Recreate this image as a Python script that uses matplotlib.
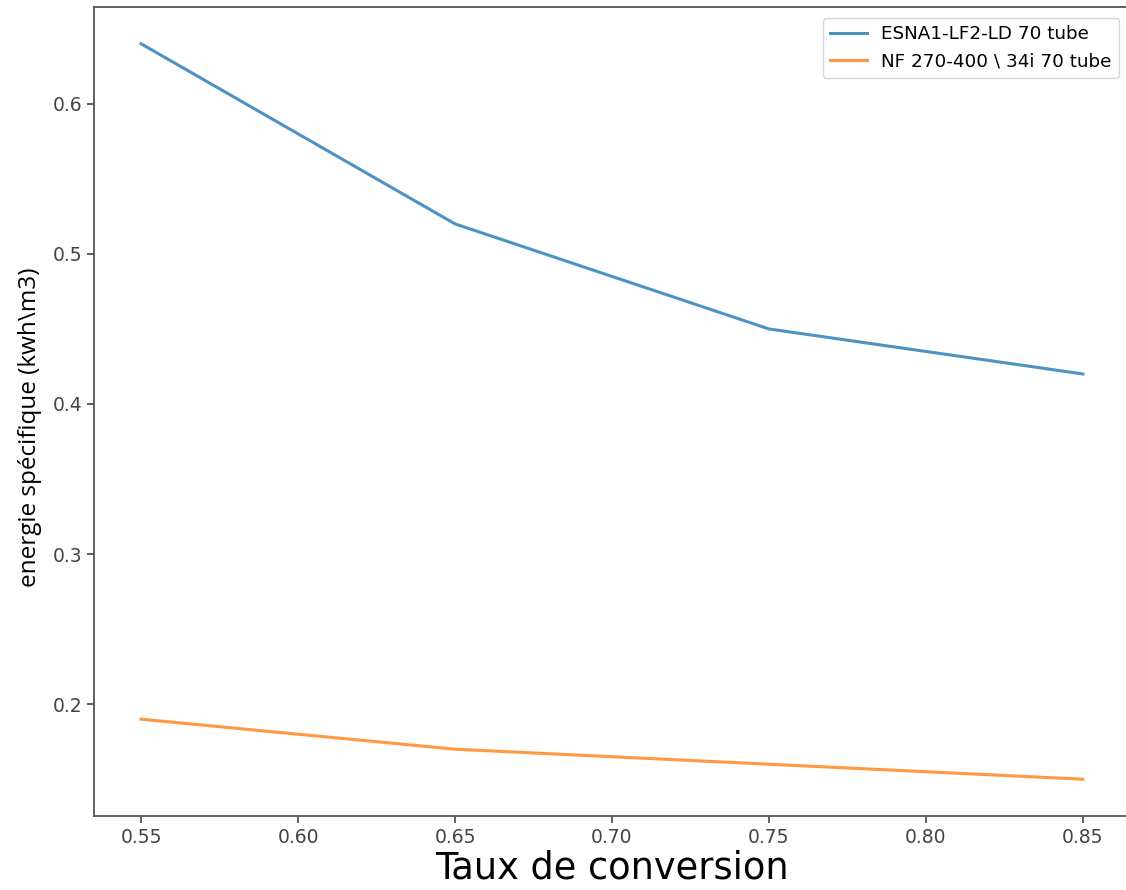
import matplotlib
matplotlib.use("Agg")
import matplotlib.pyplot as plt

# conversion rate vs specific energy for two membranes
taux = [0.55, 0.65, 0.75, 0.85]
energie_esna = [0.64, 0.52, 0.45, 0.42]
energie_nf = [0.19, 0.17, 0.16, 0.15]

plt.rcParams["font.family"] = ["DejaVu Sans"]

fig = plt.figure(figsize=(11.26, 8.90), dpi=100)
# axes run slightly past the right edge of the figure
ax = fig.add_axes([94 / 1126, 1 - 816 / 890, (1130 - 94) / 1126, (816 - 7) / 890])

ax.plot(taux, energie_esna, color="#1f77b4", linewidth=2.2, alpha=0.8,
        label="ESNA1-LF2-LD 70 tube")
ax.plot(taux, energie_nf, color="#ff7f0e", linewidth=2.2, alpha=0.8,
        label="NF 270-400 \\ 34i 70 tube")

ax.set_xlabel("Taux de conversion", fontsize=26.5, labelpad=2)
ax.set_ylabel("energie spécifique (kwh\\m3)", fontsize=17.5,
              family=["Open Sans", "DejaVu Sans"])
ax.yaxis.set_label_coords(-0.050, 0.481)
ax.tick_params(labelsize=13.5, colors="#444444", length=5, width=1.2)
for s in ax.spines.values():
    s.set_color("#555555")
    s.set_linewidth(1.3)

ax.legend(loc="upper right", fontsize=13.2, borderaxespad=0.6)

fig.savefig("out.png", dpi=100)
